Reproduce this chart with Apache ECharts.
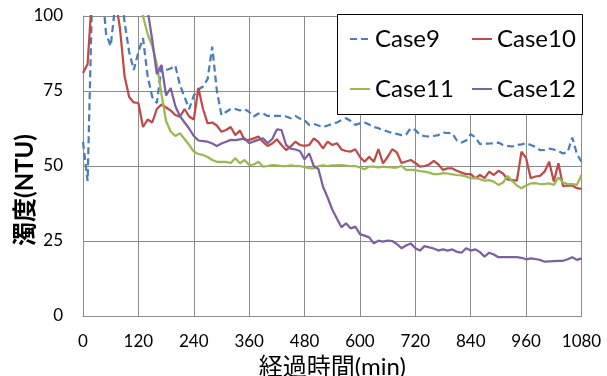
<!DOCTYPE html>
<html>
<head>
<meta charset="utf-8">
<script src="https://cdn.jsdelivr.net/npm/echarts@6/dist/echarts.min.js"></script>
<style>html,body{margin:0;padding:0;background:#fff;}#c{width:607px;height:376px;}</style>
</head>
<body>
<div id="c"></div>
<script>
const times = [0,10,20,30,40,50,60,70,80,90,100,110,120,130,140,150,160,170,180,190,200,210,220,230,240,250,260,270,280,290,300,310,320,330,340,350,360,370,380,390,400,410,420,430,440,450,460,470,480,490,500,510,520,530,540,550,560,570,580,590,600,610,620,630,640,650,660,670,680,690,700,710,720,730,740,750,760,770,780,790,800,810,820,830,840,850,860,870,880,890,900,910,920,930,940,950,960,970,980,990,1000,1010,1020,1030,1040,1050,1060,1070,1080];
const case9 = [58,45,108,115,112,94,90,104,112,98,88,82,88,92.6,80,73,71,83,82,82.5,83.5,77,73,69,73.5,75.5,76.5,79,89.8,75,67,68,69,69,68.5,69,68,66.5,67.5,67.5,66.7,66.7,66.7,66.7,66.5,65.9,66.7,65.8,65.3,63.7,64,63.5,63,63.5,64,64.5,65.3,65.9,65,63.7,64.2,64.5,63.8,63,62.6,62,61.5,61,60.7,60.3,60.5,62.6,62,60.3,60,59.8,60,60.3,61.1,61,60.9,58.5,57.8,58.5,60.6,59.5,57.3,57.5,57.5,57.6,57.8,57,56.7,56.5,57,57.2,57.6,57,56.4,55.3,55.4,55.8,55.5,55,54.2,54.6,59.5,54,51.4];
const case10 = [81,84,108,115,118,118,114,106,96,80,73,71.2,71,63,65.5,64.5,69,70.5,69.5,68.5,67,66.4,69,66.5,65.5,76,69,64.2,64.5,63.5,61.4,62,63,60.3,61.8,58.7,58.7,59.2,59.8,58,56.7,57.5,58.9,57,55.3,56.5,58.1,57,56.7,57,59.2,58,55.9,58.1,57,57.6,55.5,55,54.8,55.6,53,51.4,53.1,51.4,55.6,50.9,53,55.6,54.5,51,51.5,52,51,49.8,50,50.5,51.7,50.5,48.7,49.2,49.2,48.4,47.8,47.3,47.3,45.9,47,46,48.1,47,48.4,47.5,45.5,45.3,45.1,54.8,52.6,45.9,46.5,46.7,48.1,51.4,44.8,50.9,43.3,43.5,43.5,42.6,42.4];
const case11 = [130,135,140,140,138,135,132,128,124,120,115,110,105,100,94,90,84,74,65,61.5,60,60.9,59,57,54.8,54,53.7,53,52,51.4,51.4,51.4,51,52.6,50.9,52,50.3,50.5,51.4,49.8,50,50.3,50.2,50,50,50.2,50,50,49.6,49.3,49.2,50,50.2,50,50.2,50.2,50.3,50.1,50,50,49.5,48.9,49.8,49.8,49.5,49.8,49.6,49.5,49.5,50,48.7,48.7,48.6,48.3,48.1,47.8,47.3,47.3,47.6,47.5,47.2,47,46.9,46.5,45.9,46,45.6,45.1,45.3,44.8,43.7,44.5,46.7,45,43.5,42.6,43.5,44.2,44.3,44,44,44.2,43.7,46.2,44.5,44,44,43.7,47];
const case12 = [140,140,140,138,136,134,132,130,128,125,122,118,114,108,102,92,80.6,83.7,73.5,76,70,66.6,64.5,62.5,60,58.5,58.3,58.1,57.5,56.7,57.5,58.1,58.7,58.6,58.9,59.2,57.6,58.2,58.7,59.2,57.6,59,62.2,62,57,55.8,55.5,55,52.2,54.2,50,49,43.1,39.5,35.5,32.5,29.6,30.9,29.2,29.8,27.3,26.8,26.2,24.2,25.1,24.8,25.1,25,24,22.6,23.5,24.2,22.6,21.8,23.3,22.9,22.5,21.8,22.2,21.8,22.2,21.4,21.1,22.6,21.8,22.2,21.3,19.8,21.1,20.5,19.6,19.6,19.6,19.6,19.6,19.4,18.9,19.2,19,18.7,18.1,18.2,18.3,18.4,18.4,18.9,19.6,18.7,19.2];
const seriesNames = ['Case9','Case10','Case11','Case12'];
const seriesValues = [case9, case10, case11, case12];
const colors = ['#4A7EBB','#BE4B48','#98B954','#7D60A0'];
const xTitle = '経過時間(min)';
const yTitle = '濁度(NTU)';

const pairs = v => times.map((t, i) => [t, v[i]]);
const FONT = "Lato, 'Noto Sans CJK JP', sans-serif";

const chart = echarts.init(document.getElementById('c'), null, {renderer: 'canvas'});
chart.setOption({
  animation: false,
  backgroundColor: '#fff',
  grid: {left: 83, right: 25.5, top: 16, bottom: 60, containLabel: false, outerBoundsMode: 'none'},
  xAxis: {
    type: 'value', min: 0, max: 1080, interval: 120,
    name: xTitle, nameLocation: 'middle', nameGap: 33,
    nameTextStyle: {fontSize: 24, color: '#000', fontFamily: FONT},
    axisLine: {show: true, lineStyle: {color: '#8c8c8c', width: 1}},
    axisTick: {show: false},
    axisLabel: {fontSize: 17, color: '#000', margin: 17, fontFamily: FONT, formatter: v => String(v)},
    splitLine: {show: true, lineStyle: {color: '#8c8c8c', width: 1}}
  },
  yAxis: {
    type: 'value', min: 0, max: 100, interval: 25,
    axisLine: {show: true, lineStyle: {color: '#8c8c8c', width: 1}},
    axisTick: {show: false},
    axisLabel: {fontSize: 17, color: '#000', margin: 20, fontFamily: FONT, formatter: v => String(v)},
    splitLine: {show: true, lineStyle: {color: '#8c8c8c', width: 1}}
  },
  graphic: [{
    type: 'rect', z: 10,
    shape: {x: 337.5, y: 14.5, width: 245, height: 100},
    style: {fill: '#fff', stroke: '#000', lineWidth: 1}
  }, {
    type: 'text', z: 10, x: 25, y: 190, rotation: Math.PI / 2,
    style: {text: yTitle, fontSize: 24, fontWeight: 'bold', fill: '#000', fontFamily: FONT,
            align: 'center', verticalAlign: 'middle'}
  }],
  legend: {
    z: 20, left: 349, top: 14, width: 250, padding: 0,
    orient: 'horizontal', itemGap: 0, itemWidth: 20, itemHeight: 12,
    data: seriesNames,
    itemStyle: {opacity: 0, borderWidth: 0},
    textStyle: {fontSize: 24, color: '#000', fontFamily: FONT, width: 96, lineHeight: 50}
  },
  series: seriesNames.map((n, i) => ({
    name: n, type: 'line', data: pairs(seriesValues[i]),
    showSymbol: false, symbol: 'none', clip: true,
    color: colors[i],
    lineStyle: {color: colors[i], width: 2.25, type: i === 0 ? [7, 4] : 'solid'}
  }))
});
</script>
</body>
</html>
